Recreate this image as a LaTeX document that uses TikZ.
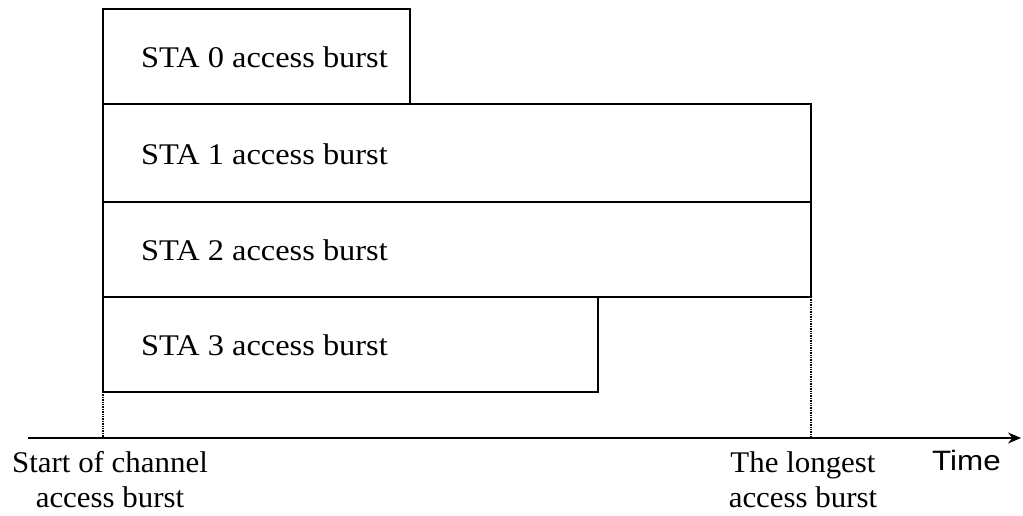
\documentclass[tikz,border=0pt]{standalone}
\usepackage{fontspec}
\setmainfont{Liberation Serif}
\newfontfamily\labelsans{Liberation Sans}
\usetikzlibrary{arrows.meta}
\begin{document}
\begin{tikzpicture}[x=1pt,y=-1pt,
  burst/.style={draw,line width=1.8pt,anchor=north west,inner sep=0pt,outer sep=0pt},
  bursttext/.style={anchor=west,inner sep=0pt,xscale=1.08,font=\fontsize{30}{35}\selectfont},
  marker/.style={line width=1.6pt,dash pattern=on 1.3pt off 1.1pt},
  caption/.style={align=center,inner sep=0pt,anchor=base,xscale=1.03,font=\fontsize{30}{35}\selectfont}]
  \useasboundingbox (0,0) rectangle (1023,516);
  % bursts, one per station
  \node[burst,minimum width=307pt,minimum height=95pt] (b0) at (103,9) {};
  \node[burst,minimum width=708pt,minimum height=98pt] (b1) at (103,104) {};
  \node[burst,minimum width=708pt,minimum height=95pt] (b2) at (103,202) {};
  \node[burst,minimum width=495pt,minimum height=95pt] (b3) at (103,297) {};
  \node[bursttext] (t0) at ([xshift=38pt,yshift=-1pt]b0.west) {STA 0 access burst};
  \node[bursttext] (t1) at ([xshift=38pt,yshift=-1pt]b1.west) {STA 1 access burst};
  \node[bursttext] (t2) at ([xshift=38pt,yshift=-1pt]b2.west) {STA 2 access burst};
  \node[bursttext] (t3) at ([xshift=38pt,yshift=-1pt]b3.west) {STA 3 access burst};
  % time axis
  \coordinate (axL) at (28,438);
  \coordinate (axR) at (1021,438);
  \draw[line width=1.6pt,-{Stealth[length=13pt,width=11pt]}] (axL) -- (axR);
  \coordinate (s0) at (b3.south west |- axL);
  \coordinate (s1) at (b2.south east |- axL);
  \draw[marker] (b3.south west) -- (s0);
  \draw[marker] (b2.south east) -- (s1);
  % axis labels
  \node[caption] (start) at (110,507) {Start of channel\\access burst};
  \node[caption] (longest) at (803,507) {The longest\\access burst};
  \node[anchor=base west,inner sep=0pt,xscale=1.12,font=\labelsans\fontsize{28}{33}\selectfont] (time) at (932,470) {Time};
\end{tikzpicture}
\end{document}
